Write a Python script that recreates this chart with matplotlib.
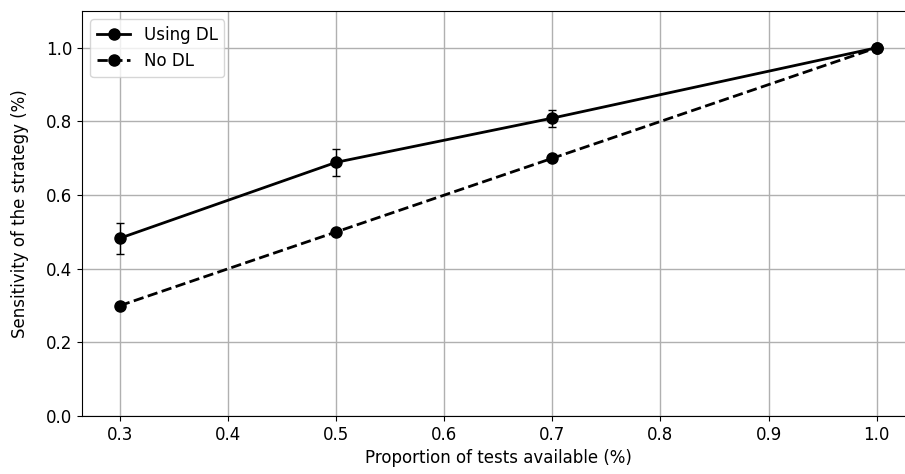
import matplotlib.pyplot as plt

proportion = [0.3, 0.5, 0.7, 1.0]
sens_dl = [0.483, 0.689, 0.809, 1.0]
sens_dl_err = [0.042, 0.037, 0.023, 0.0]
sens_no_dl = [0.3, 0.5, 0.7, 1.0]

fig = plt.figure(figsize=(9.05, 4.74), dpi=100)
# right spine falls just outside the figure, as in the original crop
ax = fig.add_axes([0.0906, 0.122, 0.920, 0.855])

ax.errorbar(proportion, sens_dl, yerr=sens_dl_err, fmt="none",
            ecolor="black", elinewidth=1, capsize=3)
ax.plot(proportion, sens_dl, marker="o", markersize=8, linestyle="-",
        color="black", linewidth=2, label="Using DL")
ax.plot(proportion, sens_no_dl, marker="o", markersize=8, linestyle="--",
        color="black", linewidth=2, label="No DL")

ax.set_xlim(0.265, 1.035)
ax.set_ylim(0, 1.1)
ax.set_xticks([0.3, 0.4, 0.5, 0.6, 0.7, 0.8, 0.9, 1.0])
ax.set_yticks([0.0, 0.2, 0.4, 0.6, 0.8, 1.0])
ax.tick_params(labelsize=12)
ax.set_xlabel("Proportion of tests available (%)", fontsize=12)
ax.set_ylabel("Sensitivity of the strategy (%)", fontsize=12, labelpad=12)
ax.grid(True, color="#b0b0b0", linewidth=1)
ax.set_axisbelow(True)
ax.legend(loc="upper left", fontsize=12)

fig.savefig("out.png", dpi=100)
